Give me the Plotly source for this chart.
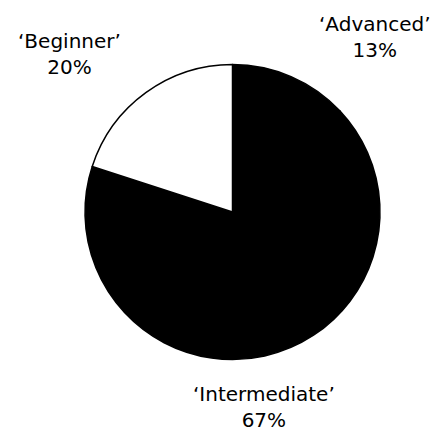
import plotly.graph_objects as go

labels = ["Advanced", "Intermediate", "Beginner"]
values = [13, 67, 20]
colors = ["black", "black", "white"]
# label anchor positions (paper fraction)
label_x = [0.825, 0.575, 0.139]
label_y = [0.935, 0.097, 0.896]

W, H = 445, 442
fig = go.Figure(go.Pie(
    labels=labels, values=values, sort=False, direction="clockwise", rotation=0,
    marker=dict(colors=colors, line=dict(color="black", width=1.5)),
    textinfo="none", hoverinfo="label+percent", showlegend=False,
    domain=dict(x=[77/W, 372/W], y=[(H-353)/H, (H-55)/H]),
))
for lab, v, x, y in zip(labels, values, label_x, label_y):
    fig.add_annotation(text=f"‘{lab}’<br>{v}%", x=x, y=y, xref="paper", yref="paper",
                       showarrow=False, xanchor="center", yanchor="middle",
                       font=dict(family="DejaVu Sans", size=20, color="black"))
fig.update_layout(width=W, height=H, margin=dict(l=0, r=0, t=0, b=0),
                  paper_bgcolor="white", plot_bgcolor="white")
fig.write_html("out.html")
